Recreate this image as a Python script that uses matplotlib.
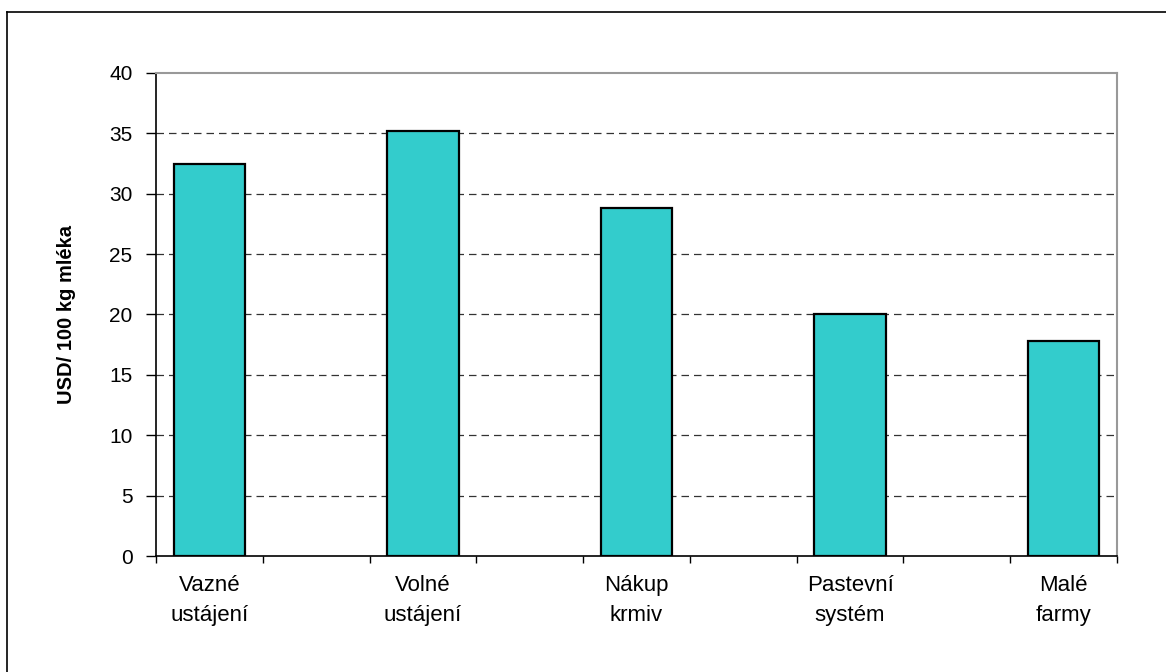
import numpy as np
import matplotlib
matplotlib.use("Agg")
import matplotlib.pyplot as plt
from matplotlib.lines import Line2D

# Data
categories = ["Vazné\nustájení", "Volné\nustájení", "Nákup\nkrmiv", "Pastevní\nsystém", "Malé\nfarmy"]
values = [32.5, 35.2, 28.8, 20.0, 17.8]
y_ticks = [0, 5, 10, 15, 20, 25, 30, 35, 40]
y_label = "USD/ 100 kg mléka"

plt.rcParams['font.family'] = ['Liberation Sans', 'DejaVu Sans']

fig = plt.figure(figsize=(11.66, 6.72), dpi=100)
ax = fig.add_axes([0.1338, 0.1726, 0.9580 - 0.1338, 0.8914 - 0.1726])

x = np.arange(len(categories))
ax.bar(x, values, width=0.335, color="#33CCCC", edgecolor="black", linewidth=1.6, zorder=3)

ax.set_xlim(-0.25, len(categories) - 0.75)
ax.set_ylim(0, 40)
ax.set_yticks(y_ticks)
ax.set_yticklabels([str(v) for v in y_ticks], fontsize=15)

# category ticks at half-category steps, labels under the bars
ax.set_xticks(np.arange(-0.25, len(categories) - 0.5, 0.5))
ax.set_xticklabels([])
for xi, lab in zip(x, categories):
    ax.text(xi, -1.55, lab, ha="center", va="top", fontsize=16,
            linespacing=1.6)

# dashed gridlines
for v in y_ticks[1:-1]:
    ax.axhline(v, color="#333333", linestyle=(0, (6, 4)), linewidth=0.9, zorder=1)

ax.tick_params(axis="y", direction="out", length=7, width=1, pad=10, colors="black")
ax.tick_params(axis="x", direction="out", length=5, width=1)

for side in ["left", "bottom"]:
    ax.spines[side].set_color("black")
    ax.spines[side].set_linewidth(1.2)
for side in ["top", "right"]:
    ax.spines[side].set_color("#999999")
    ax.spines[side].set_linewidth(1.5)

ax.set_ylabel(y_label, fontsize=14.5, fontweight="bold")
ax.yaxis.set_label_coords(-0.083, 0.5)

# outer chart border (top and left edges visible)
fig.add_artist(Line2D([7 / 1166, 7 / 1166], [0, 1 - 12 / 672], transform=fig.transFigure,
                      color="black", linewidth=1.2))
fig.add_artist(Line2D([7 / 1166, 1], [1 - 12 / 672, 1 - 12 / 672], transform=fig.transFigure,
                      color="black", linewidth=1.2))

fig.savefig("out.png", dpi=100)
